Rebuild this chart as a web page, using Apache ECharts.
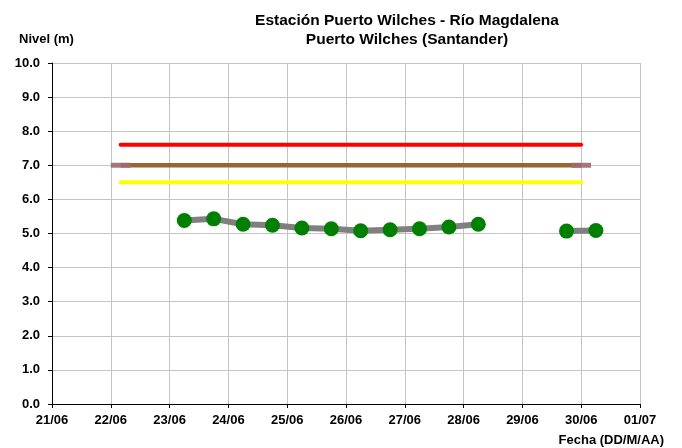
<!DOCTYPE html>
<html><head><meta charset="utf-8">
<script src="https://cdn.jsdelivr.net/npm/echarts@6/dist/echarts.min.js"></script>
<style>html,body{margin:0;padding:0;background:#fff}#c{width:682px;height:448px}</style>
</head><body><div id="c"></div>
<script>
const titleLines = ['Estación Puerto Wilches - Río Magdalena', 'Puerto Wilches (Santander)'];
const yAxisName = 'Nivel (m)';
const xAxisName = 'Fecha (DD/M/AA)';
const xMin = '2024-06-21 00:00';
const xMax = '2024-07-01 00:00';
const yTicks = [0, 1, 2, 3, 4, 5, 6, 7, 8, 9, 10];

const levelDates = ['2024-06-23 06:00','2024-06-23 18:00','2024-06-24 06:00','2024-06-24 18:00','2024-06-25 06:00','2024-06-25 18:00','2024-06-26 06:00','2024-06-26 18:00','2024-06-27 06:00','2024-06-27 18:00','2024-06-28 06:00','2024-06-29 06:00','2024-06-29 18:00','2024-06-30 06:00'];
const levelValues = [5.38, 5.43, 5.27, 5.24, 5.16, 5.14, 5.08, 5.11, 5.14, 5.19, 5.27, null, 5.07, 5.09];

const thresholdDates = ['2024-06-22 04:00', '2024-06-30 00:00'];
const redLevel = 7.6;
const brownLevel = 7.0;
const yellowLevel = 6.5;
const markLeftDates = ['2024-06-22 00:00', '2024-06-22 08:00'];
const markRightDates = ['2024-06-29 20:00', '2024-06-30 04:00'];

function ts(s){ return new Date(s.replace(' ', 'T')).getTime(); }
function pad(n){ return (n < 10 ? '0' : '') + n; }
const DAY = 86400000;
const font = 'Liberation Sans, Arial, sans-serif';

const chart = echarts.init(document.getElementById('c'));
function hline(dates, level, color, width, cap, z){
  return { type:'line', data: dates.map(d => [ts(d), level]), symbol:'none', silent:true, z:z,
    lineStyle:{ color: color, width: width, cap: cap }, animation:false };
}
chart.setOption({
  animation:false,
  title:{ text: titleLines.join('\n'), left: 402, top: 6, textAlign:'center',
    textStyle:{ fontFamily: font, fontSize: 15.5, fontWeight:'bold', color:'#000', lineHeight: 19 } },
  grid:{ left: 52, right: 42, top: 63, bottom: 44 },
  xAxis:{ type:'time', min: ts(xMin), max: ts(xMax), interval: DAY, minInterval: DAY, maxInterval: DAY,
    name: xAxisName, nameLocation:'end', nameGap: 0,
    nameTextStyle:{ fontFamily: font, fontSize: 13, fontWeight:'bold', color:'#000', align:'right', verticalAlign:'top', padding:[30, -24, 0, 0] },
    axisLine:{ lineStyle:{ color:'#000', width:1 } },
    axisTick:{ show:true, length:4, lineStyle:{ color:'#000' } },
    axisLabel:{ fontFamily: font, fontSize: 13, fontWeight:'bold', color:'#000', margin: 10, hideOverlap:false,
      showMinLabel:true, showMaxLabel:true,
      formatter: v => { const d = new Date(v); return pad(d.getDate()) + '/' + pad(d.getMonth()+1); } },
    splitLine:{ show:true, lineStyle:{ color:'#c4c4c4', width:1 } } },
  yAxis:{ type:'value', min: yTicks[0], max: yTicks[yTicks.length-1], interval: 1,
    name: yAxisName, nameLocation:'end', nameGap: 17,
    nameTextStyle:{ fontFamily: font, fontSize: 13, fontWeight:'bold', color:'#000', align:'left', padding:[0,0,0,-33] },
    axisLine:{ show:true, lineStyle:{ color:'#000', width:1 } },
    axisTick:{ show:true, length:4, lineStyle:{ color:'#000' } },
    axisLabel:{ fontFamily: font, fontSize: 13, fontWeight:'bold', color:'#000', margin: 12, formatter: v => v.toFixed(1) },
    splitLine:{ show:true, lineStyle:{ color:'#c4c4c4', width:1 } } },
  series:[
    hline(thresholdDates, redLevel, '#ff0000', 4, 'round', 3),
    hline(thresholdDates, brownLevel, '#996633', 4.5, 'butt', 3),
    hline(thresholdDates, yellowLevel, '#ffff00', 4, 'round', 3),
    hline(markLeftDates, brownLevel, 'rgba(160,104,112,0.9)', 5, 'butt', 4),
    hline(markRightDates, brownLevel, 'rgba(160,104,112,0.9)', 5, 'butt', 4),
    { type:'line', data: levelDates.map((d,i) => [ts(d), levelValues[i]]), connectNulls:false,
      symbol:'circle', symbolSize: 15, z:5,
      lineStyle:{ color:'#808080', width: 6 }, itemStyle:{ color:'#008000', borderWidth:0 } }
  ]
});
</script></body></html>
